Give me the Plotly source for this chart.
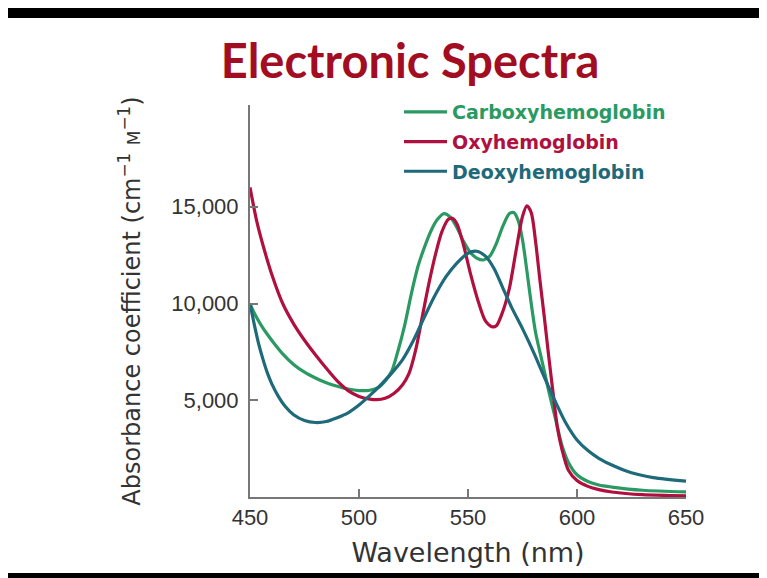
import plotly.graph_objects as go

# Wavelength (nm) / absorbance coefficient pairs
carboxy_x = [450, 452, 455, 458, 461, 465, 470, 475, 480, 485, 490, 495, 500, 505, 509, 512, 515, 518, 521, 524, 527, 530, 533, 536, 539, 542, 545, 548, 551, 554, 557, 560, 563, 566, 569, 571, 573, 575, 577, 579, 581, 584, 587, 590, 593, 596, 600, 605, 610, 616, 630, 650]
carboxy_y = [10000, 9500, 8900, 8400, 7950, 7400, 6850, 6450, 6150, 5900, 5720, 5580, 5500, 5520, 5670, 6000, 6500, 7600, 8900, 10500, 11900, 12900, 13750, 14350, 14650, 14450, 13900, 13200, 12650, 12350, 12250, 12450, 13100, 14000, 14650, 14700, 14300, 13300, 11700, 10000, 8500, 7000, 5500, 4100, 2700, 1800, 1150, 800, 620, 515, 350, 260]

oxy_x = [450, 453, 456, 460, 465, 470, 475, 480, 485, 490, 495, 500, 505, 508, 512, 516, 520, 523, 526, 529, 532, 535, 538, 541, 543, 545, 548, 551, 555, 558, 561, 563, 566, 569, 572, 575, 577, 579, 581, 583, 585, 587, 589, 591, 593, 596, 600, 605, 610, 616, 630, 650]
oxy_y = [16000, 14300, 13000, 11500, 10000, 8950, 8100, 7350, 6650, 6000, 5500, 5200, 5060, 5030, 5100, 5350, 5800, 6400, 7600, 9300, 11000, 12500, 13700, 14350, 14400, 14100, 13000, 11600, 10000, 9100, 8800, 8850, 9600, 10800, 12700, 14500, 15050, 14700, 13200, 11200, 9300, 7300, 5400, 3600, 2500, 1400, 850, 550, 380, 260, 120, 60]

deoxy_x = [450, 452, 454, 456, 458, 460, 463, 466, 470, 475, 480, 485, 490, 495, 500, 505, 510, 515, 520, 525, 530, 535, 540, 545, 550, 554, 558, 562, 566, 570, 575, 580, 585, 590, 595, 600, 605, 610, 617, 625, 635, 650]
deoxy_y = [10000, 8900, 7900, 7100, 6400, 5850, 5200, 4700, 4250, 3950, 3850, 3900, 4100, 4350, 4750, 5250, 5800, 6400, 7100, 8100, 9300, 10450, 11400, 12100, 12600, 12700, 12450, 11800, 10800, 9800, 8700, 7500, 6200, 4950, 3800, 2950, 2400, 2000, 1600, 1250, 1000, 820]

x_ticks = [450, 500, 550, 600, 650]
y_ticks = [5000, 10000, 15000]

GREEN = "#2a9a62"
RED = "#b0103f"
TEAL = "#1e6a7a"

# page has an 8px body margin, so figure coords = page coords - 8
W, H = 759, 570
L, R, T, B = 242, 81, 97, 81
pw, ph = W - L - R, H - T - B

def px2paper_x(px):
    return (px - L) / pw

def px2paper_y(py):
    return (H - B - py) / ph

fig = go.Figure()
for i, (name, xs, ys, col) in enumerate([("Carboxyhemoglobin", carboxy_x, carboxy_y, GREEN),
                                         ("Oxyhemoglobin", oxy_x, oxy_y, RED),
                                         ("Deoxyhemoglobin", deoxy_x, deoxy_y, TEAL)]):
    fig.add_trace(go.Scatter(
        x=xs, y=ys, mode="lines", line=dict(color=col, width=3.2, shape="spline", smoothing=0.8),
        legendgroup=f"g{i}",
        name=f"<span style='color:{col}'><b>{name}</b></span>"))

fig.update_layout(
    width=W, height=H,
    margin=dict(l=L, r=R, t=T, b=B, autoexpand=False),
    paper_bgcolor="white", plot_bgcolor="white",
    title=dict(text="<b>Electronic Spectra</b>", x=402 / W, xanchor="center",
               y=1 - 54 / H, yanchor="middle", yref="container",
               font=dict(family="Lato", size=47, color="#a30d22")),
    legend=dict(x=px2paper_x(391), y=px2paper_y(85), xanchor="left", yanchor="top",
                font=dict(family="DejaVu Sans", size=19), bgcolor="rgba(0,0,0,0)",
                itemwidth=43, tracegroupgap=2),
    xaxis=dict(range=[450, 650], tickvals=x_ticks, ticks="inside", ticklen=8, tickwidth=1.5,
               tickcolor="#777", showline=True, linecolor="#777", linewidth=2, showgrid=False,
               zeroline=False, tickfont=dict(family="Liberation Sans", size=22, color="#333"),
               title=dict(text="Wavelength (nm)", font=dict(family="DejaVu Sans", size=27, color="#333"),
                          standoff=14)),
    yaxis=dict(range=[0, 20260], tickvals=y_ticks, tickformat=",", ticks="inside", ticklen=8,
               tickwidth=1.5, tickcolor="#777", showline=True, linecolor="#777", linewidth=2,
               showgrid=False, zeroline=False, ticklabelstandoff=5,
               tickfont=dict(family="Liberation Sans", size=22, color="#333"),
               title=dict(text="Absorbance coefficient (cm<sup>−1</sup> <span style='font-size:17px'>M</span><sup>−1</sup>)",
                          font=dict(family="DejaVu Sans", size=24, color="#333"), standoff=24)),
    shapes=[
        dict(type="rect", xref="paper", yref="paper", x0=px2paper_x(0), x1=px2paper_x(W),
             y0=px2paper_y(10), y1=px2paper_y(0), fillcolor="black", line=dict(width=0), layer="above"),
        dict(type="rect", xref="paper", yref="paper", x0=px2paper_x(0), x1=px2paper_x(W),
             y0=px2paper_y(H), y1=px2paper_y(565), fillcolor="black", line=dict(width=0), layer="above"),
    ],
)

fig.write_html("out.html")
